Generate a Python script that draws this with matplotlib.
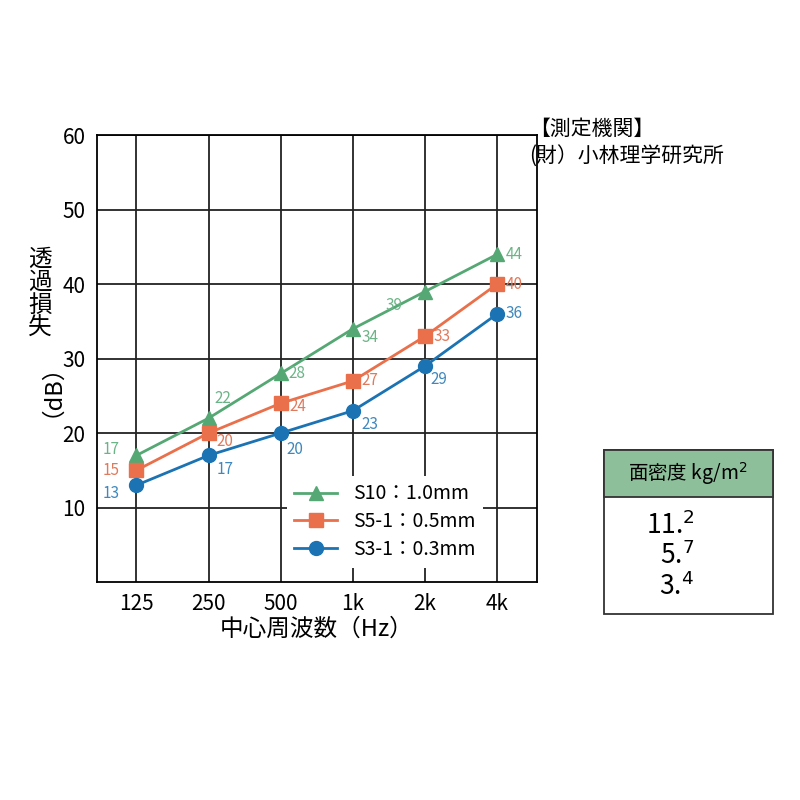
import matplotlib
matplotlib.use("Agg")
import matplotlib.pyplot as plt
from matplotlib.patches import Rectangle

plt.rcParams['font.family'] = ['Noto Sans CJK JP', 'DejaVu Sans']

freqs = ["125", "250", "500", "1k", "2k", "4k"]
s10 = [17, 22, 28, 34, 39, 44]
s5 = [15, 20, 24, 27, 33, 40]
s3 = [13, 17, 20, 23, 29, 36]
names = ["S10：1.0mm", "S5-1：0.5mm", "S3-1：0.3mm"]
densities = ["11.$^{2}$", "5.$^{7}$", "3.$^{4}$"]

fig = plt.figure(figsize=(8, 8), dpi=100)
ax = fig.add_axes([0.121, 0.2725, 0.55, 0.5585])
x = list(range(len(freqs)))
ax.set_xlim(-0.55, 5.55)
ax.set_ylim(0, 60)
ax.set_yticks([10, 20, 30, 40, 50, 60])
ax.set_xticks(x)
ax.set_xticklabels(freqs)
ax.grid(True, color='#222222', lw=1.3)
ax.tick_params(length=0, labelsize=15, pad=8)
for s in ax.spines.values():
    s.set_linewidth(1.3)

series = [
    (s10, '^', '#55a874', '#6cb487', names[0],
     [(-18, 4), (10, 14), (12, 0), (12, -6), (-22, -10), (12, 0)]),
    (s5, 's', '#e9704a', '#e07a5c', names[1],
     [(-18, 0), (12, -6), (12, -2), (12, 0), (12, 0), (12, 0)]),
    (s3, 'o', '#1b73b3', '#3f88bd', names[2],
     [(-18, -6), (12, -10), (10, -12), (12, -10), (10, -10), (12, 0)]),
]
for vals, m, c, lc, nm, offs in series:
    ax.plot(x, vals, color=c, marker=m, ms=10, lw=2, label=nm, zorder=3)
    for xi, v, (dx, dy) in zip(x, vals, offs):
        ax.annotate(str(v), (xi, v), xytext=(dx, dy), textcoords='offset points',
                    color=lc, fontsize=11, ha='center', va='center', zorder=4)

leg = ax.legend(loc='lower right', bbox_to_anchor=(0.9, 0.01), fontsize=14,
                frameon=True, fancybox=False, edgecolor='none', facecolor='white',
                framealpha=1, handlelength=2.2, borderpad=0.4, labelspacing=0.35)

ax.set_xlabel("中心周波数（Hz）", fontsize=17, labelpad=2)
fig.text(0.05, 0.575, "透\n過\n損\n失", fontsize=17, ha='center', va='bottom',
         linespacing=1.0)
fig.text(0.05, 0.575, "（dB）", fontsize=17, ha='center', va='top', rotation=90)

fig.text(0.662, 0.79, "【測定機関】\n(財）小林理学研究所", fontsize=15, ha='left',
         va='bottom', linespacing=1.35)

# table
fig.patches.append(Rectangle((0.755, 0.2325), 0.211, 0.205, transform=fig.transFigure,
                             facecolor='white', edgecolor='#333333', lw=1.3))
fig.patches.append(Rectangle((0.755, 0.379), 0.211, 0.0585, transform=fig.transFigure,
                             facecolor='#8dbf9a', edgecolor='#333333', lw=1.3))
fig.text(0.86, 0.408, "面密度 kg/m$^2$", fontsize=14, ha='center', va='center')
for i, d in enumerate(densities):
    fig.text(0.868, 0.343 - i * 0.038, d, fontsize=19, ha='right', va='center')

fig.savefig("out.png", dpi=100, facecolor='white')
